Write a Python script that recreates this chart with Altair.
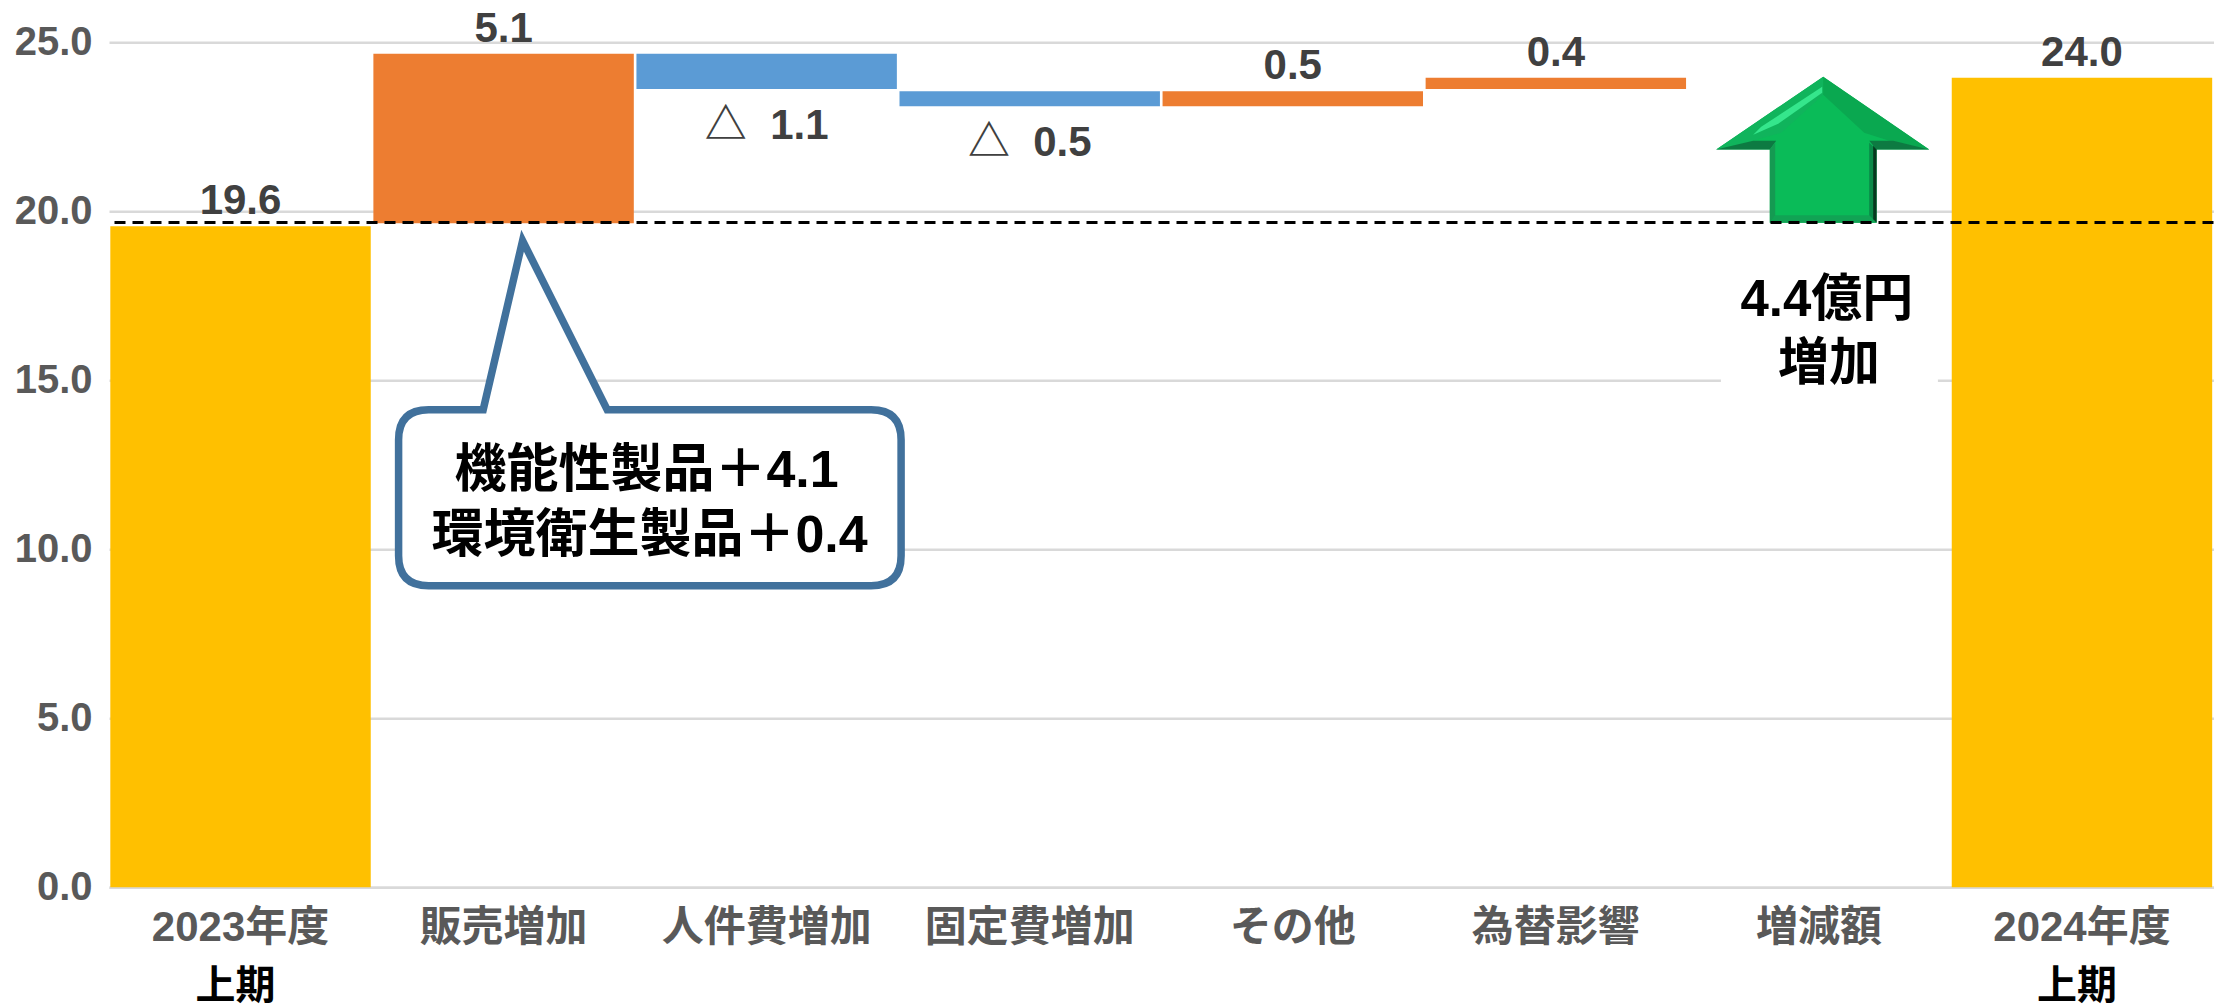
import altair as alt
import pandas as pd

FONT = "'Liberation Sans', 'Noto Sans CJK JP', sans-serif"

categories = ["2023年度", "販売増加", "人件費増加", "固定費増加", "その他", "為替影響", "増減額", "2024年度"]
bar_low = [0, 19.65, 23.62, 23.11, 23.11, 23.62, None, 0]
bar_high = [19.56, 24.66, 24.66, 23.55, 23.55, 23.95, None, 23.95]
bar_colors = ["#FFC000", "#ED7D31", "#5B9BD5", "#5B9BD5", "#ED7D31", "#ED7D31", None, "#FFC000"]

above_cats = ["2023年度", "販売増加", "その他", "為替影響", "2024年度"]
above_vals = [19.56, 24.66, 23.55, 23.95, 23.95]
above_text = ["19.6", "5.1", "0.5", "0.4", "24.0"]
below_cats = ["人件費増加", "固定費増加"]
below_vals = [23.62, 23.11]
below_text = ["△\u00a0\u00a01.1", "△\u00a0\u00a00.5"]

reference_level = 19.67
y_ticks = [0, 5, 10, 15, 20, 25]

bars_df = pd.DataFrame({"cat": categories, "low": bar_low, "high": bar_high, "color": bar_colors}).dropna()

x_scale = alt.Scale(domain=categories, paddingInner=0.01, paddingOuter=0.005)
y_scale = alt.Scale(domain=[0, 25], nice=False)

x_enc = alt.X(
    "cat:N", scale=x_scale, sort=categories, title=None,
    axis=alt.Axis(labelAngle=0, labelFont=FONT, labelFontSize=42, labelFontWeight="bold", labelColor="#595959",
                  labelPadding=20, labelLimit=500, ticks=False, domainColor="#D9D9D9", domainWidth=2.5, grid=False,
                  labelOverlap=False),
)
y_enc = alt.Y(
    "low:Q", scale=y_scale, title=None,
    axis=alt.Axis(values=y_ticks, format=".1f", labelFont=FONT, labelFontSize=40, labelFontWeight="bold",
                  labelColor="#595959", labelPadding=17, ticks=False, domain=False, grid=True, gridColor="#D9D9D9",
                  gridWidth=2.5),
)

bars = alt.Chart(bars_df).mark_bar().encode(
    x=x_enc, y=y_enc, y2="high:Q", color=alt.Color("color:N", scale=None)
)


def poly(points):
    return "M" + " L".join(f"{a} {b}" for a, b in points) + " Z"


def shape_layer(cat, value, path, fill, stroke=None, stroke_width=0):
    kw = {"stroke": stroke, "strokeWidth": stroke_width} if stroke else {"strokeWidth": 0}
    return alt.Chart(pd.DataFrame({"cat": [cat], "v": [value]})).mark_point(
        shape=path, size=4, filled=True, fill=fill, opacity=1, **kw
    ).encode(x=alt.X("cat:N", scale=x_scale, sort=categories), y=alt.Y("v:Q", scale=y_scale))


OX = 4.3  # arrow tip relative to the centre of its category
arrow_pieces = [
    ([(0, 0), (106, 72.6), (53.3, 72.6), (53.3, 146), (-53.4, 146), (-53.4, 72.6), (-107, 72.6)], "#0ABB58"),
    ([(0, 0), (-107, 72.6), (-78, 66), (-42, 56), (0, 18)], "#10B45C"),
    ([(-1, 10), (-62, 50), (-70, 58), (-45, 47), (-1, 16)], "#35E68C"),
    ([(0, 0), (106, 72.6), (66, 64), (41, 56), (0, 18)], "#0AA850"),
    ([(-107, 72.6), (-53.4, 72.6), (-47, 64), (-70, 64)], "#0D7A42"),
    ([(106, 72.6), (53.3, 72.6), (46, 64), (70, 64)], "#0D7A42"),
    ([(-53.4, 72.6), (-53.4, 146), (-48, 139), (-48, 66)], "#159A52"),
    ([(53.3, 72.6), (53.3, 146), (46, 139), (46, 66)], "#0A8A48"),
    ([(53.3, 72.6), (53.3, 146), (50, 142.5), (50, 69)], "#07381F"),
    ([(-53.4, 146), (53.3, 146), (46, 138.5), (-48, 138.5)], "#11A354"),
]
arrow_layers = [
    shape_layer("増減額", 23.98, poly([(a + OX, b) for a, b in pts]), color) for pts, color in arrow_pieces
]

callout_path = (
    "M19 0 L103.6 169 L367.5 169 Q397.5 169 397.5 199 L397.5 315 Q397.5 345 367.5 345 "
    "L-75 345 Q-105 345 -105 315 L-105 199 Q-105 169 -75 169 L-20.4 169 Z"
)
callout = shape_layer("販売増加", 19.13, callout_path, "#FFFFFF", "#41719C", 7.5)

white_patch = shape_layer("増減額", 15, poly([(-98, -110), (119, -110), (119, 12), (-98, 12)]), "#FFFFFF")

rule = alt.Chart(pd.DataFrame({"v": [reference_level]})).mark_rule(
    color="#000000", strokeWidth=3, strokeDash=[11, 7]
).encode(y=alt.Y("v:Q", scale=y_scale))


def text_layer(cats, vals, texts, dy, baseline, color="#404040", weight="bold", size=42, dx=0):
    df = pd.DataFrame({"cat": cats, "v": vals, "t": texts})
    return alt.Chart(df).mark_text(
        font=FONT, fontSize=size, fontWeight=weight, color=color, baseline=baseline, dy=dy, dx=dx, align="center"
    ).encode(x=alt.X("cat:N", scale=x_scale, sort=categories), y=alt.Y("v:Q", scale=y_scale), text="t:N")


labels_above = text_layer(above_cats, above_vals, above_text, -3, "bottom")
labels_below = text_layer(below_cats, below_vals, below_text, 17, "top")

callout_line1 = text_layer(["販売増加"], [12.33], ["機能性製品＋4.1"], 0, "middle", "#000000", "bold", 52, 143)
callout_line2 = text_layer(["販売増加"], [10.39], ["環境衛生製品＋0.4"], 0, "middle", "#000000", "bold", 52, 146)
note_line1 = text_layer(["増減額"], [17.35], ["4.4億円"], 0, "middle", "#000000", "bold", 51, 8)
note_line2 = text_layer(["増減額"], [15.45], ["増加"], 0, "middle", "#000000", "bold", 51, 10)

period = alt.Chart(pd.DataFrame({"cat": ["2023年度", "2024年度"], "t": ["上期", "上期"]})).mark_text(
    font=FONT, fontSize=40, fontWeight="bold", color="#000000", baseline="middle", dx=-5
).encode(x=alt.X("cat:N", scale=x_scale, sort=categories), y=alt.value(945), text="t:N")

chart = alt.layer(
    bars, *arrow_layers, rule, white_patch, callout,
    labels_above, labels_below, callout_line1, callout_line2, note_line1, note_line2, period,
).properties(
    width=2104.5, height=845,
    padding={"left": 101, "top": 34.3, "right": 0, "bottom": 118},
    autosize=alt.AutoSizeParams(type="none"),
    background="#FFFFFF",
).configure_view(stroke=None)

chart.save("out.html", embed_options={"renderer": "svg", "actions": False})
